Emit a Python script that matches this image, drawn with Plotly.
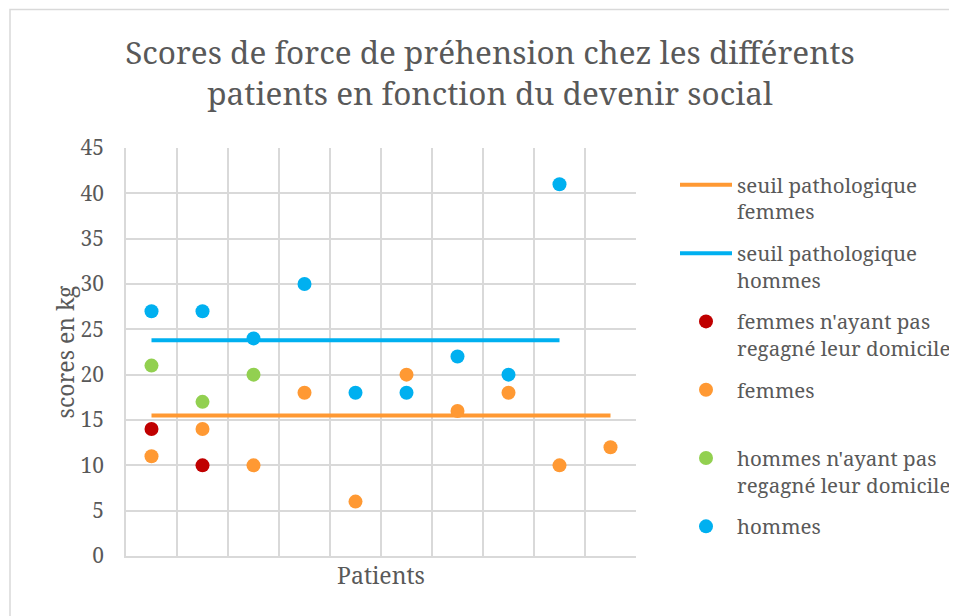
import plotly.graph_objects as go

# ---- data ----
patients = [1, 2, 3, 4, 5, 6, 7, 8, 9, 10]
seuil_femmes = [15.5, 15.5, 15.5, 15.5, 15.5, 15.5, 15.5, 15.5, 15.5, 15.5]
seuil_hommes = [23.8, 23.8, 23.8, 23.8, 23.8, 23.8, 23.8, 23.8, 23.8, None]
femmes_non_domicile = [14, 10, None, None, None, None, None, None, None, None]
femmes = [11, 14, 10, 18, 6, 20, 16, 18, 10, 12]
hommes_non_domicile = [21, 17, 20, None, None, None, None, None, None, None]
hommes = [27, 27, 24, 30, 18, 18, 22, 20, 41, None]
y_ticks = [0, 5, 10, 15, 20, 25, 30, 35, 40, 45]

FONT = "Noto Serif, DejaVu Serif, serif"
TXT = "#595959"
GRID = "#D9D9D9"
ORANGE = "#FF9933"
BLUE = "#00B0F0"
RED = "#C00000"
GREEN = "#92D050"
NB = "\u00a0"

fig = go.Figure()
fig.add_trace(go.Scatter(x=patients, y=seuil_femmes, mode="lines",
                         line=dict(color=ORANGE, width=4),
                         name="seuil pathologique<br>femmes", legendgroup="a"))
fig.add_trace(go.Scatter(x=patients, y=seuil_hommes, mode="lines",
                         line=dict(color=BLUE, width=4),
                         name="seuil pathologique<br>hommes", legendgroup="b"))
fig.add_trace(go.Scatter(x=patients, y=femmes_non_domicile, mode="markers",
                         marker=dict(color=RED, size=14),
                         name="femmes n'ayant pas<br>regagné leur domicile", legendgroup="c"))
fig.add_trace(go.Scatter(x=patients, y=femmes, mode="markers",
                         marker=dict(color=ORANGE, size=14),
                         name="femmes<br>" + NB, legendgroup="d"))
fig.add_trace(go.Scatter(x=patients, y=hommes_non_domicile, mode="markers",
                         marker=dict(color=GREEN, size=14),
                         name="hommes n'ayant pas<br>regagné leur domicile", legendgroup="e"))
fig.add_trace(go.Scatter(x=patients, y=hommes, mode="markers",
                         marker=dict(color=BLUE, size=14),
                         name="hommes", legendgroup="f"))

# the page body adds an 8px offset; figure coordinates below are screen - 8
W, H = 949, 608
L, T = 118, 140
pw, ph = 510, 408
R = W - L - pw
B = H - T - ph

fig.update_layout(
    width=W, height=H,
    margin=dict(l=L, r=R, t=T, b=B, autoexpand=False),
    paper_bgcolor="white", plot_bgcolor="white",
    font=dict(family=FONT, color=TXT, size=20.5),
    title=dict(text="Scores de force de préhension chez les différents<br>patients en fonction du devenir social",
               font=dict(family=FONT, size=31.5, color=TXT),
               x=482 / W, xref="container", xanchor="center",
               y=1 - 56 / H, yref="container", yanchor="middle"),
    showlegend=True,
    legend=dict(font=dict(family=FONT, size=20.5, color=TXT),
                x=(667 - L) / pw, xanchor="left",
                y=(T + ph - 157) / ph, yanchor="top",
                valign="top", itemwidth=52, tracegroupgap=12,
                bgcolor="rgba(0,0,0,0)"),
    xaxis=dict(range=[0.5, 10.5], tickvals=[0.5 + i for i in range(11)],
               showticklabels=False, ticks="", showgrid=True, gridcolor=GRID, gridwidth=1.5,
               showline=True, linecolor=GRID, linewidth=1.5, zeroline=False,
               title=dict(text="Patients", font=dict(family=FONT, size=23, color=TXT), standoff=11)),
    yaxis=dict(range=[0, 45], tickvals=y_ticks, ticks="", ticklabelstandoff=16,
               showgrid=True, gridcolor=GRID, gridwidth=1.5,
               showline=True, linecolor=GRID, linewidth=1.5, zeroline=False,
               tickfont=dict(family=FONT, size=21, color=TXT),
               title=dict(text="scores en kg", font=dict(family=FONT, size=23, color=TXT), standoff=0)),
    shapes=[dict(type="rect", xref="paper", yref="paper",
                 x0=(2 - L) / pw, x1=(W + 20 - L) / pw,
                 y0=(T + ph - (H + 20)) / ph, y1=(T + ph - 1.5) / ph,
                 line=dict(color=GRID, width=1.5), fillcolor="rgba(0,0,0,0)", layer="below")],
)

fig.write_html("out.html")
